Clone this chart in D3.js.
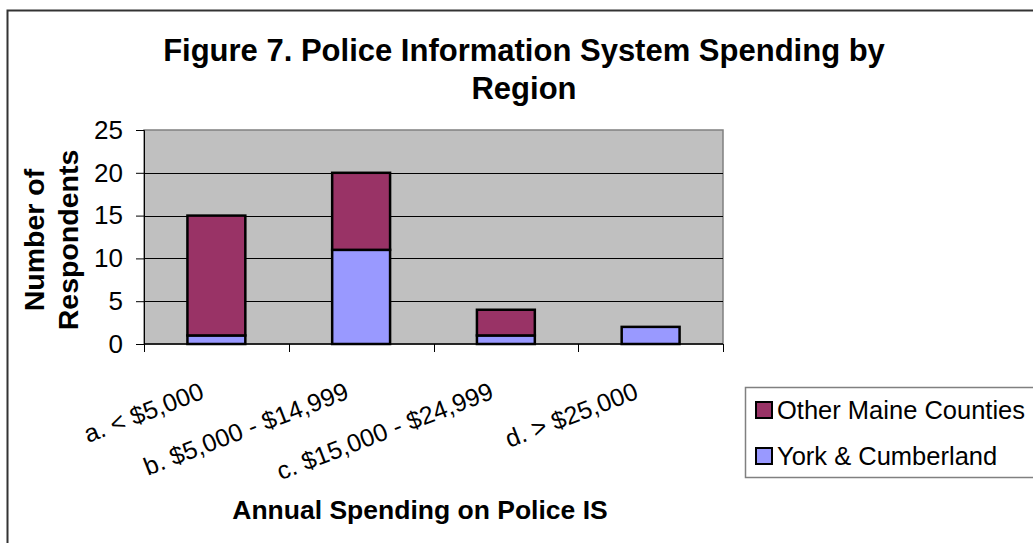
<!DOCTYPE html>
<html>
<head>
<meta charset="utf-8">
<script src="https://cdn.jsdelivr.net/npm/d3@7"></script>
<style>
  html, body { margin: 0; padding: 0; background: #fff; }
  svg { display: block; font-family: "Liberation Sans", Arial, sans-serif; }
</style>
</head>
<body>
<svg id="chart" width="1033" height="543"></svg>
<script>
// Spending brackets and respondent counts per region
const categories = ["a. < $5,000", "b. $5,000 - $14,999", "c. $15,000 - $24,999", "d. > $25,000"];
const yorkCumberland = [1, 11, 1, 2];
const otherMaine = [14, 9, 3, 0];
const seriesNames = ["York & Cumberland", "Other Maine Counties"];
const yTicks = [0, 5, 10, 15, 20, 25];
const titleLines = ["Figure 7. Police Information System Spending by", "Region"];
const xTitle = "Annual Spending on Police IS";
const yTitleLines = ["Number of", "Respondents"];

const colors = { "York & Cumberland": "#9999FF", "Other Maine Counties": "#993366" };

const svg = d3.select("#chart");
const plot = { left: 144, right: 723, top: 130, bottom: 344 };

// outer chart frame (runs off the right and bottom edges)
svg.append("rect")
  .attr("x", 7.5).attr("y", 10.5)
  .attr("width", 1100).attr("height", 600)
  .attr("fill", "#fff").attr("stroke", "#333").attr("stroke-width", 2);

const rows = categories.map((c, i) => ({
  cat: c,
  "York & Cumberland": yorkCumberland[i],
  "Other Maine Counties": otherMaine[i]
}));
const stacked = d3.stack().keys(seriesNames)(rows);

const x = d3.scaleBand().domain(categories)
  .range([plot.left, plot.right]).paddingInner(0.6).paddingOuter(0.3);
const xEdge = d3.scaleLinear().domain([0, categories.length]).range([plot.left, plot.right]);
const y = d3.scaleLinear().domain([0, 25]).range([plot.bottom, plot.top]);

// plot background
svg.append("rect")
  .attr("x", plot.left).attr("y", plot.top)
  .attr("width", plot.right - plot.left).attr("height", plot.bottom - plot.top)
  .attr("fill", "#C0C0C0").attr("stroke", "#808080").attr("stroke-width", 1.5);

// horizontal gridlines
svg.append("g").selectAll("line")
  .data(yTicks.filter(t => t > 0 && t < 25))
  .join("line")
  .attr("x1", plot.left).attr("x2", plot.right)
  .attr("y1", d => Math.round(y(d)) + 0.5).attr("y2", d => Math.round(y(d)) + 0.5)
  .attr("stroke", "#000").attr("stroke-width", 1);

// stacked bars
svg.append("g").selectAll("g")
  .data(stacked)
  .join("g")
  .attr("fill", d => colors[d.key])
  .selectAll("rect")
  .data(d => d.filter(s => s[1] - s[0] > 0))
  .join("rect")
  .attr("x", d => x(d.data.cat))
  .attr("width", x.bandwidth())
  .attr("y", d => y(d[1]))
  .attr("height", d => y(d[0]) - y(d[1]))
  .attr("stroke", "#000").attr("stroke-width", 2.5);

// y axis
const yAxis = d3.axisLeft(y).tickValues(yTicks).tickSize(8).tickPadding(13);
const gy = svg.append("g").attr("transform", `translate(${plot.left},0)`).call(yAxis);
gy.select(".domain").attr("stroke", "#000").attr("stroke-width", 1);
gy.selectAll(".tick line").attr("stroke", "#000");
gy.selectAll(".tick text").attr("font-size", 26).attr("fill", "#000")
  .attr("font-family", "Liberation Sans, Arial, sans-serif");

// x axis line and category separator ticks
const gx = svg.append("g");
gx.append("line")
  .attr("x1", plot.left).attr("x2", plot.right)
  .attr("y1", plot.bottom).attr("y2", plot.bottom)
  .attr("stroke", "#000").attr("stroke-width", 1.5);
gx.selectAll(".sep").data(d3.range(categories.length + 1)).join("line")
  .attr("class", "sep")
  .attr("x1", d => Math.round(xEdge(d)) + 0.5).attr("x2", d => Math.round(xEdge(d)) + 0.5)
  .attr("y1", plot.bottom).attr("y2", plot.bottom + 8)
  .attr("stroke", "#000").attr("stroke-width", 1);

// rotated category labels
gx.selectAll(".lab").data(categories).join("text")
  .attr("class", "lab")
  .attr("text-anchor", "end")
  .attr("font-size", 25)
  .attr("transform", d => `translate(${x(d) + x.bandwidth() / 2 - 11},398) rotate(-21)`)
  .text(d => d);

// chart title
svg.append("text")
  .attr("text-anchor", "middle").attr("font-weight", "bold").attr("font-size", 31)
  .selectAll("tspan").data(titleLines).join("tspan")
  .attr("x", 524).attr("y", (d, i) => 61 + i * 38)
  .text(d => d);

// axis titles
svg.append("text")
  .attr("x", 420).attr("y", 519)
  .attr("text-anchor", "middle").attr("font-weight", "bold").attr("font-size", 26.5)
  .text(xTitle);

svg.append("text")
  .attr("transform", "translate(0,240) rotate(-90)")
  .attr("text-anchor", "middle").attr("font-weight", "bold").attr("font-size", 28.5)
  .selectAll("tspan").data(yTitleLines).join("tspan")
  .attr("x", 0).attr("y", (d, i) => 44 + i * 34)
  .text(d => d);

// legend, top entry is the upper stack segment
const legend = svg.append("g");
legend.append("rect")
  .attr("x", 745.5).attr("y", 387.5).attr("width", 320).attr("height", 90)
  .attr("fill", "#fff").attr("stroke", "#808080").attr("stroke-width", 1.5);
const legendItems = seriesNames.slice().reverse();
const li = legend.selectAll(".item").data(legendItems).join("g")
  .attr("class", "item")
  .attr("transform", (d, i) => `translate(0,${410 + i * 46})`);
li.append("rect")
  .attr("x", 756).attr("y", -8).attr("width", 16).attr("height", 16)
  .attr("fill", d => colors[d]).attr("stroke", "#000").attr("stroke-width", 2);
li.append("text")
  .attr("x", 777).attr("y", 0).attr("dy", "0.35em")
  .attr("font-size", 25.5)
  .text(d => d);
</script>
</body>
</html>
